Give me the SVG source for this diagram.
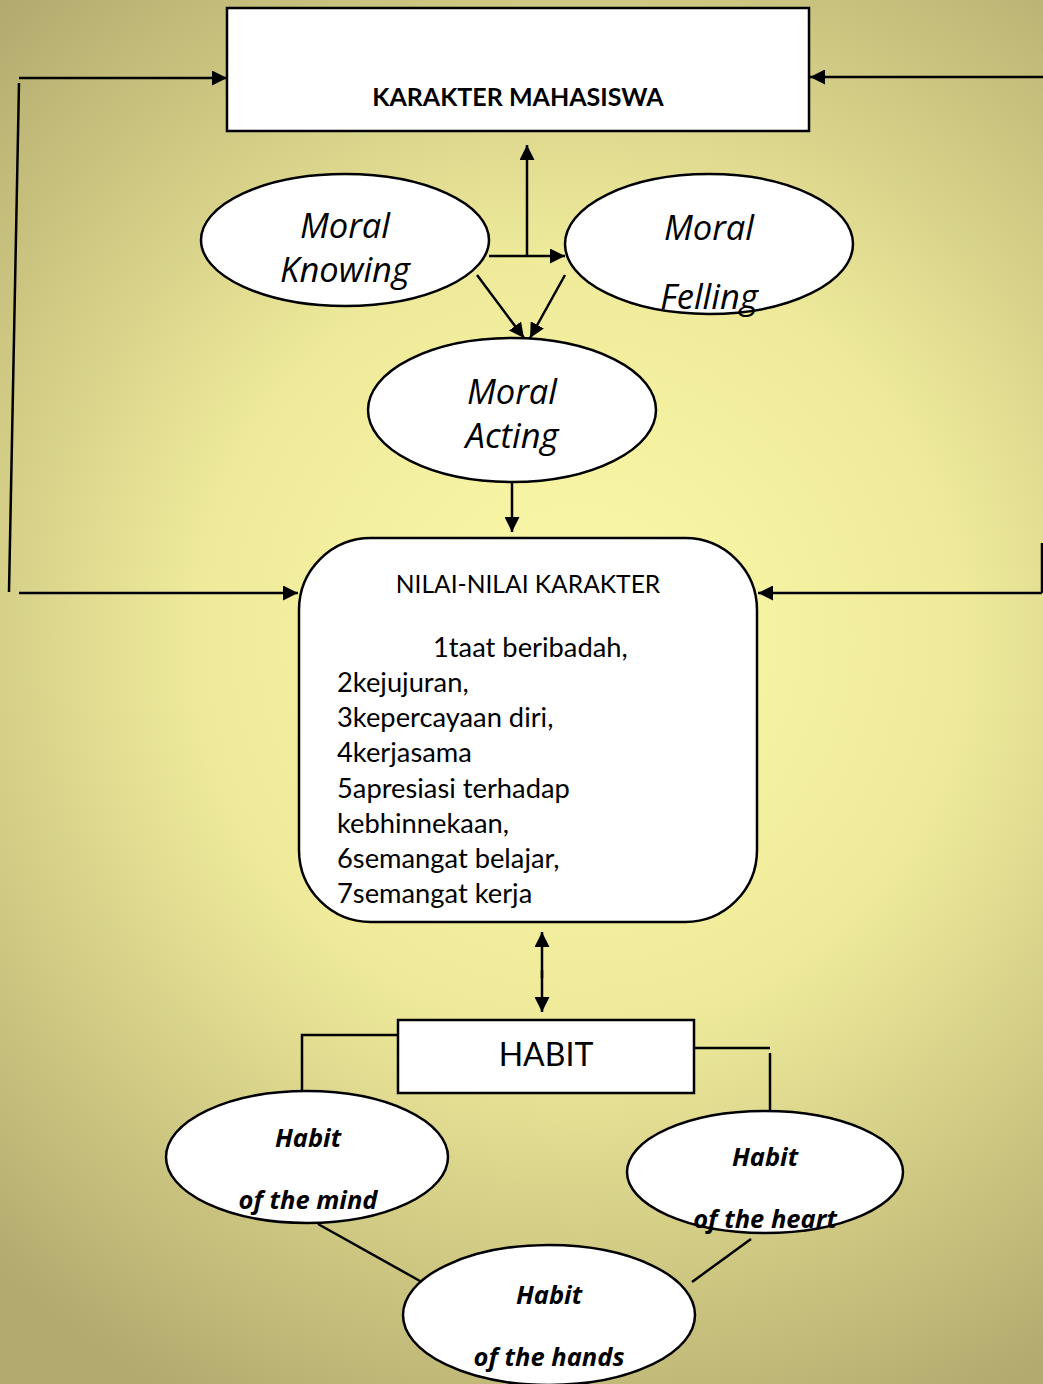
<svg xmlns="http://www.w3.org/2000/svg" width="1043" height="1384" viewBox="0 0 1043 1384">
<defs>
<radialGradient id="bg" gradientUnits="userSpaceOnUse" cx="580" cy="640" r="860">
<stop offset="0" stop-color="#fbf9a8"/>
<stop offset="0.45" stop-color="#eeea9a"/>
<stop offset="1" stop-color="#b2aa6e"/>
</radialGradient>
<marker id="ah" viewBox="0 0 10 10" refX="10" refY="5" markerWidth="15" markerHeight="15" markerUnits="userSpaceOnUse" orient="auto-start-reverse">
<path d="M0,0 L10,5 L0,10 z" fill="#000"/>
</marker>
</defs>
<style>
.box{fill:#fff;stroke:#000;stroke-width:2.5}
.ln{fill:none;stroke:#000;stroke-width:2.5}
.ar{fill:none;stroke:#000;stroke-width:2.5;marker-end:url(#ah)}
.mo{font-family:"Open Sans",sans-serif;font-style:italic;font-size:34.5px;text-anchor:middle;fill:#000}
.hb{font-family:"Open Sans",sans-serif;font-style:italic;font-weight:bold;font-size:25.5px;text-anchor:middle;fill:#000}
.nl{font-family:"Lato","Open Sans",sans-serif;font-size:27.3px;fill:#000}
.nt{font-family:"Lato","Open Sans",sans-serif;font-size:24.6px;fill:#000;text-anchor:middle}
</style>
<rect width="1043" height="1384" fill="url(#bg)"/>

<g id="connectors">
<path class="ar" d="M19,78 L227,78"/>
<path class="ln" d="M19,83 L9,592"/>
<path class="ar" d="M19,593 L298,593"/>
<path class="ar" d="M1043,77 L810,77"/>
<path class="ln" d="M1042,543 L1042,593"/>
<path class="ar" d="M1042,593 L758,593"/>
<path class="ar" d="M527,256 L527,145"/>
<path class="ar" d="M489,256 L565,256"/>
<path class="ar" d="M477,275 L524,338"/>
<path class="ar" d="M565,275 L530,338"/>
<path class="ar" d="M512,482 L512,532"/>
<path class="ar" d="M542,978 L542,932"/>
<path class="ar" d="M542,970 L542,1012"/>
<path class="ln" d="M398,1035 L302,1035 L302,1102"/>
<path class="ln" d="M694,1048 L770,1048"/>
<path class="ln" d="M770,1053 L770,1111"/>
<path class="ln" d="M318,1224 L420,1281"/>
<path class="ln" d="M751,1239 L692,1282"/>
</g>

<g id="karakter-mahasiswa">
<rect class="box" x="227" y="8" width="582" height="123"/>
<text x="518" y="106" font-family="Lato,'Open Sans',sans-serif" font-weight="bold" font-size="25" text-anchor="middle">KARAKTER MAHASISWA</text>
</g>

<g id="moral-knowing">
<ellipse class="box" cx="345" cy="240" rx="144" ry="66"/>
<text class="mo" x="345" y="238">Moral</text>
<text class="mo" x="345" y="282">Knowing</text>
</g>

<g id="moral-felling">
<ellipse class="box" cx="709" cy="244" rx="144" ry="70"/>
<text class="mo" x="709" y="240">Moral</text>
<text class="mo" x="709" y="309">Felling</text>
</g>

<g id="moral-acting">
<ellipse class="box" cx="512" cy="410" rx="144" ry="72"/>
<text class="mo" x="512" y="404">Moral</text>
<text class="mo" x="512" y="448">Acting</text>
</g>

<g id="nilai-nilai-karakter">
<rect class="box" x="299" y="538" width="458" height="384" rx="72" ry="72"/>
<text class="nt" x="528" y="593">NILAI-NILAI KARAKTER</text>
<text class="nl" x="433" y="657">1taat beribadah,</text>
<text class="nl" x="337" y="692">2kejujuran,</text>
<text class="nl" x="337" y="727">3kepercayaan diri,</text>
<text class="nl" x="337" y="762">4kerjasama</text>
<text class="nl" x="337" y="798">5apresiasi terhadap</text>
<text class="nl" x="337" y="833">kebhinnekaan,</text>
<text class="nl" x="337" y="868">6semangat belajar,</text>
<text class="nl" x="337" y="903">7semangat kerja</text>
</g>

<g id="habit">
<rect class="box" x="398" y="1020" width="296" height="73"/>
<text x="546" y="1066" font-family="Lato,'Open Sans',sans-serif" font-size="32" text-anchor="middle">HABIT</text>
</g>

<g id="habit-mind">
<ellipse class="box" cx="307" cy="1157" rx="141" ry="66"/>
<text class="hb" x="308" y="1147">Habit</text>
<text class="hb" x="308" y="1209">of the mind</text>
</g>

<g id="habit-heart">
<ellipse class="box" cx="765" cy="1172" rx="138" ry="61"/>
<text class="hb" x="765" y="1166">Habit</text>
<text class="hb" x="765" y="1228">of the heart</text>
</g>

<g id="habit-hands">
<ellipse class="box" cx="549" cy="1315" rx="146" ry="70"/>
<text class="hb" x="549" y="1304">Habit</text>
<text class="hb" x="549" y="1366">of the hands</text>
</g>
</svg>
